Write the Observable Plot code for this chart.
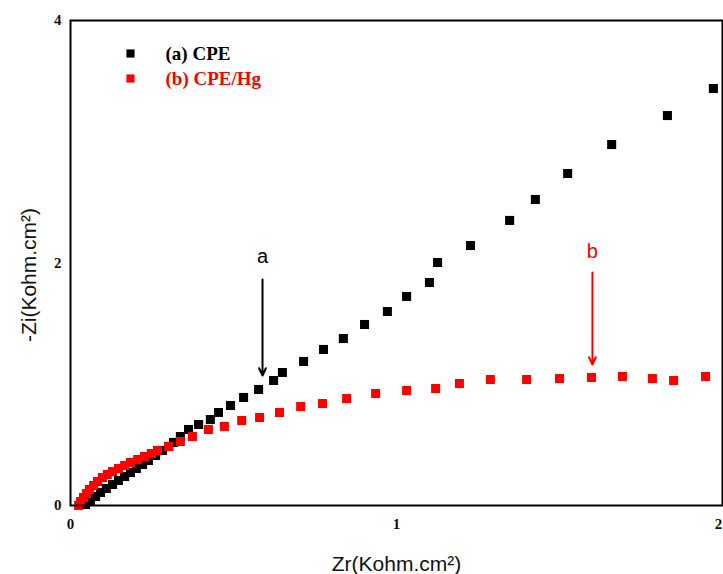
<!DOCTYPE html>
<html>
<head>
<meta charset="utf-8">
<script src="https://cdn.jsdelivr.net/npm/d3@7"></script>
<script src="https://cdn.jsdelivr.net/npm/@observablehq/plot@0.6"></script>
<style>
  html, body { margin: 0; padding: 0; background: #ffffff; }
  #chart { width: 723px; height: 574px; overflow: hidden; }
</style>
</head>
<body>
<div id="chart"></div>
<script>
// ---- Data ----
const seriesNames = ["(a) CPE", "(b) CPE/Hg"];
const seriesColors = ["#000000", "#ff0000"];

// (a) CPE : Zr, -Zi  (Kohm.cm^2)
const cpeZr = [0.046, 0.061, 0.077, 0.092, 0.110, 0.129, 0.147, 0.166, 0.184, 0.202,
               0.221, 0.239, 0.261, 0.282, 0.301, 0.316, 0.337, 0.362, 0.393, 0.429,
               0.454, 0.491, 0.531, 0.577, 0.623, 0.650, 0.715, 0.776, 0.837, 0.902,
               0.972, 1.031, 1.101, 1.126, 1.227, 1.347, 1.426, 1.525, 1.660, 1.831, 1.972];
const cpeZi = [0.008, 0.041, 0.074, 0.107, 0.140, 0.173, 0.206, 0.239, 0.272, 0.305,
               0.338, 0.371, 0.412, 0.454, 0.487, 0.520, 0.569, 0.627, 0.668, 0.709,
               0.767, 0.825, 0.891, 0.957, 1.031, 1.097, 1.188, 1.287, 1.377, 1.493,
               1.600, 1.724, 1.839, 2.004, 2.144, 2.351, 2.524, 2.738, 2.977, 3.216, 3.439];

// (b) CPE/Hg : Zr, -Zi  (Kohm.cm^2)
const hgZr = [0.025, 0.031, 0.040, 0.049, 0.058, 0.071, 0.083, 0.098, 0.113, 0.129,
              0.147, 0.166, 0.184, 0.206, 0.227, 0.248, 0.267, 0.301, 0.337, 0.374,
              0.423, 0.472, 0.525, 0.580, 0.641, 0.706, 0.773, 0.847, 0.936, 1.031,
              1.120, 1.193, 1.288, 1.399, 1.500, 1.598, 1.693, 1.785, 1.850, 1.948];
const hgZi = [0.000, 0.033, 0.066, 0.099, 0.132, 0.165, 0.198, 0.231, 0.256, 0.280,
              0.305, 0.330, 0.355, 0.379, 0.404, 0.429, 0.454, 0.487, 0.528, 0.569,
              0.627, 0.652, 0.701, 0.726, 0.767, 0.816, 0.841, 0.882, 0.924, 0.948,
              0.965, 1.006, 1.039, 1.039, 1.047, 1.056, 1.064, 1.047, 1.031, 1.064];

const xTicks = [0, 1, 2];
const yTicks = [0, 2, 4];
const xTitle = "Zr(Kohm.cm²)";
const yTitle = "-Zi(Kohm.cm²)";

// Annotations: label, Zr, label -Zi, arrow start -Zi, arrow end -Zi
const annotLabels = ["a", "b"];
const annotZr = [0.589, 1.601];
const annotTextZi = [2.054, 2.095];
const arrowFromZi = [1.864, 1.922];
const arrowToZi = [1.072, 1.163];
const annotColors = ["#000000", "#ff0000"];

// ---- Build tables ----
const cpe = cpeZr.map((x, i) => ({x, y: cpeZi[i]}));
const hg = hgZr.map((x, i) => ({x, y: hgZi[i]}));
const annots = annotLabels.map((label, i) => ({
  label, x: annotZr[i], ty: annotTextZi[i], y1: arrowFromZi[i], y2: arrowToZi[i], color: annotColors[i]
}));

const serif = "'Liberation Serif', 'Times New Roman', serif";
const sans = "'Liberation Sans', Arial, sans-serif";
const R = 5.1;
const tickFont = {fontFamily: serif, fontWeight: "bold", fontSize: 15, fill: "#111"};

const legendMarks = seriesNames.flatMap((name, i) => [
  Plot.dot([name], {frameAnchor: "top-left", dx: 60, dy: 33 + 25 * i, symbol: "square", r: 4.6, fill: seriesColors[i], stroke: "none"}),
  Plot.text([name], {frameAnchor: "top-left", dx: 95, dy: 33 + 25 * i, text: d => d, textAnchor: "start", lineAnchor: "middle",
    fontFamily: serif, fontWeight: "bold", fontSize: 19, fill: seriesColors[i]})
]);

const chart = Plot.plot({
  width: 723,
  height: 574,
  marginLeft: 70,
  marginRight: 1,
  marginTop: 20,
  marginBottom: 69,
  style: {background: "#ffffff", fontFamily: serif},
  x: {domain: [0, 2]},
  y: {domain: [0, 4]},
  marks: [
    Plot.axisX({ticks: xTicks.slice(0, -1), tickSize: 0, tickPadding: 13, tickFormat: d3.format("d"), label: null, ...tickFont}),
    Plot.axisX({ticks: xTicks.slice(-1), tickSize: 0, tickPadding: 13, tickFormat: d3.format("d"), label: null, dx: -4, ...tickFont}),
    Plot.axisY({ticks: yTicks, tickSize: 0, tickPadding: 9, tickFormat: d3.format("d"), label: null, ...tickFont}),
    Plot.dot(cpe, {x: "x", y: "y", symbol: "square", r: R, fill: seriesColors[0], stroke: "none"}),
    Plot.dot(hg, {x: "x", y: "y", symbol: "square", r: R, fill: seriesColors[1], stroke: "none"}),
    Plot.arrow(annots, {x1: "x", y1: "y1", x2: "x", y2: "y2", stroke: "color", strokeWidth: 2, headLength: 6, headAngle: 50}),
    Plot.text(annots, {x: "x", y: "ty", text: "label", fill: "color", fontFamily: sans, fontSize: 20, lineAnchor: "middle"}),
    ...legendMarks,
    Plot.text([xTitle], {frameAnchor: "bottom", dy: 65, text: d => d, textAnchor: "middle", lineAnchor: "bottom", fontFamily: sans, fontSize: 21, fill: "#111"}),
    Plot.text([yTitle], {frameAnchor: "left", dx: -35, dy: 12, rotate: -90, text: d => d, textAnchor: "middle", lineAnchor: "bottom", fontFamily: sans, fontSize: 21, fill: "#111"}),
    Plot.frame({stroke: "#000", strokeWidth: 2})
  ]
});
document.getElementById("chart").appendChild(chart);
</script>
</body>
</html>
